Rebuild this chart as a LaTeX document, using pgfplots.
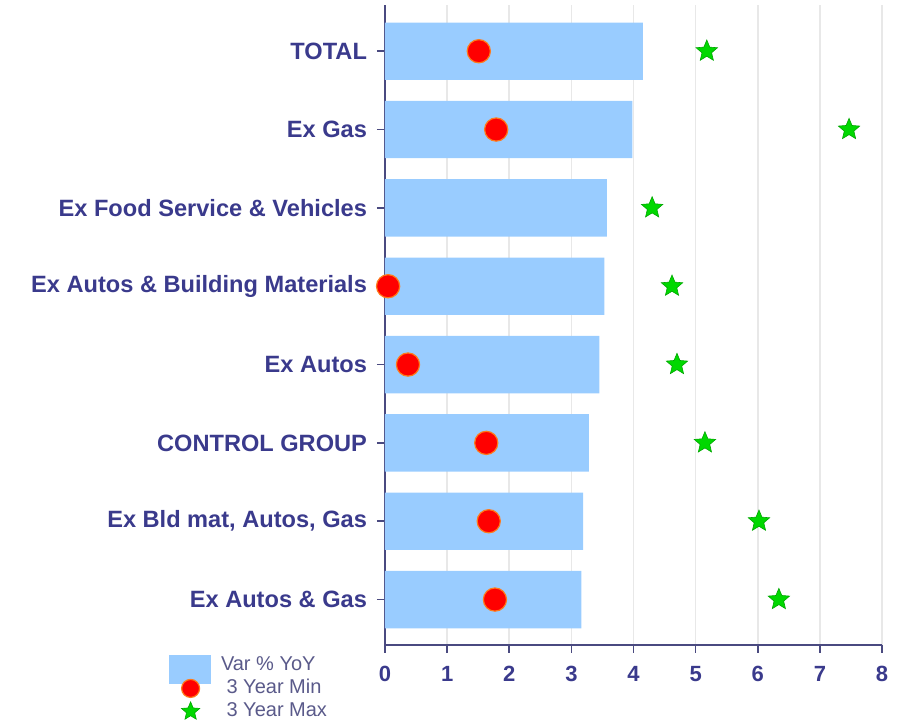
\documentclass[border=0pt]{standalone}
\usepackage{fontspec}
\setmainfont{Liberation Sans}
\usepackage{pgfplots}
\pgfplotsset{compat=1.18}

\definecolor{barblue}{HTML}{99CCFF}
\definecolor{labblue}{HTML}{3A3A8C}
\definecolor{axisblue}{HTML}{4A4A80}
\definecolor{legtxt}{HTML}{5A5A8A}
\definecolor{minred}{HTML}{FF0000}
\definecolor{minedge}{HTML}{FF7A1A}
\definecolor{maxgreen}{HTML}{00D800}

% filled five-pointed star
\pgfdeclareplotmark{fstar}{%
  \pgfpathmoveto{\pgfqpointpolar{90}{\pgfplotmarksize}}%
  \pgfpathlineto{\pgfqpointpolar{126}{0.45\pgfplotmarksize}}%
  \pgfpathlineto{\pgfqpointpolar{162}{\pgfplotmarksize}}%
  \pgfpathlineto{\pgfqpointpolar{198}{0.45\pgfplotmarksize}}%
  \pgfpathlineto{\pgfqpointpolar{234}{\pgfplotmarksize}}%
  \pgfpathlineto{\pgfqpointpolar{270}{0.45\pgfplotmarksize}}%
  \pgfpathlineto{\pgfqpointpolar{306}{\pgfplotmarksize}}%
  \pgfpathlineto{\pgfqpointpolar{342}{0.45\pgfplotmarksize}}%
  \pgfpathlineto{\pgfqpointpolar{18}{\pgfplotmarksize}}%
  \pgfpathlineto{\pgfqpointpolar{54}{0.45\pgfplotmarksize}}%
  \pgfpathclose
  \pgfusepathqfillstroke}

\begin{document}
\begin{tikzpicture}
\begin{axis}[
  at={(0,0)}, anchor=south west,
  scale only axis,
  width=248.5pt, height=320pt,
  xmin=0, xmax=8,
  ymin=-0.58, ymax=7.59,
  xtick={0,1,...,8},
  ytick={0,1,...,7},
  yticklabels={Ex Autos \& Gas, {Ex Bld mat, Autos, Gas}, CONTROL GROUP, Ex Autos,
    Ex Autos \& Building Materials, Ex Food Service \& Vehicles, Ex Gas, TOTAL},
  axis lines*=left,
  axis line style={axisblue, line width=1pt},
  tick align=outside,
  major tick length=4pt,
  tick style={axisblue, line width=0.8pt},
  xmajorgrids, grid style={gray!18, line width=0.8pt},
  /pgf/number format/assume math mode=true,
  ticklabel style={font=\bfseries\fontsize{11.8}{13}\selectfont, text=labblue},
  yticklabel style={xshift=-1.5pt},
  xticklabel style={font=\bfseries\fontsize{11}{13}\selectfont, yshift=-3pt},
  legend style={at={(-0.437,-0.018)}, anchor=north west, draw=none, fill=none,
    font=\fontsize{10}{11}\selectfont, text=legtxt, row sep=3pt,
    inner sep=0pt, nodes={inner sep=0pt, text height=6.8pt, text depth=1.7pt}},
  legend cell align=left,
  clip=false,
]
\addplot[xbar, bar width=28.7pt, draw=none, fill=barblue,
  legend image code/.code={\fill[barblue, overlay] (0pt,-9.5pt) rectangle (21pt,5pt);
    \path (0pt,0pt) (26pt,0pt);}]
  coordinates {(4.15,7) (3.98,6) (3.57,5) (3.53,4) (3.45,3) (3.28,2) (3.19,1) (3.16,0)};
\addlegendentry{Var \% YoY}
\addplot[only marks, mark=*, mark size=5.8pt, mark options={fill=minred, draw=minedge, line width=0.6pt},
  legend image code/.code={\draw[mark size=4.5pt, overlay] plot[only marks] coordinates {(11pt,0pt)};
    \path (0pt,0pt) (26pt,0pt);}]
  coordinates {(1.51,7) (1.79,6) (0.05,4) (0.37,3) (1.63,2) (1.67,1) (1.77,0)};
\addlegendentry{\ 3 Year Min}
\addplot[only marks, mark=fstar, mark size=5.6pt, mark options={fill=maxgreen, draw=green!65!black, line width=0.3pt},
  legend image code/.code={\draw[mark size=4.8pt, overlay] plot[only marks] coordinates {(11pt,0pt)};
    \path (0pt,0pt) (26pt,0pt);}]
  coordinates {(5.18,7) (7.47,6) (4.30,5) (4.62,4) (4.70,3) (5.15,2) (6.02,1) (6.34,0)};
\addlegendentry{\ 3 Year Max}
\end{axis}
\path[use as bounding box] (-192.5pt,-41.5pt) rectangle (260pt,322.5pt);
\end{tikzpicture}
\end{document}
